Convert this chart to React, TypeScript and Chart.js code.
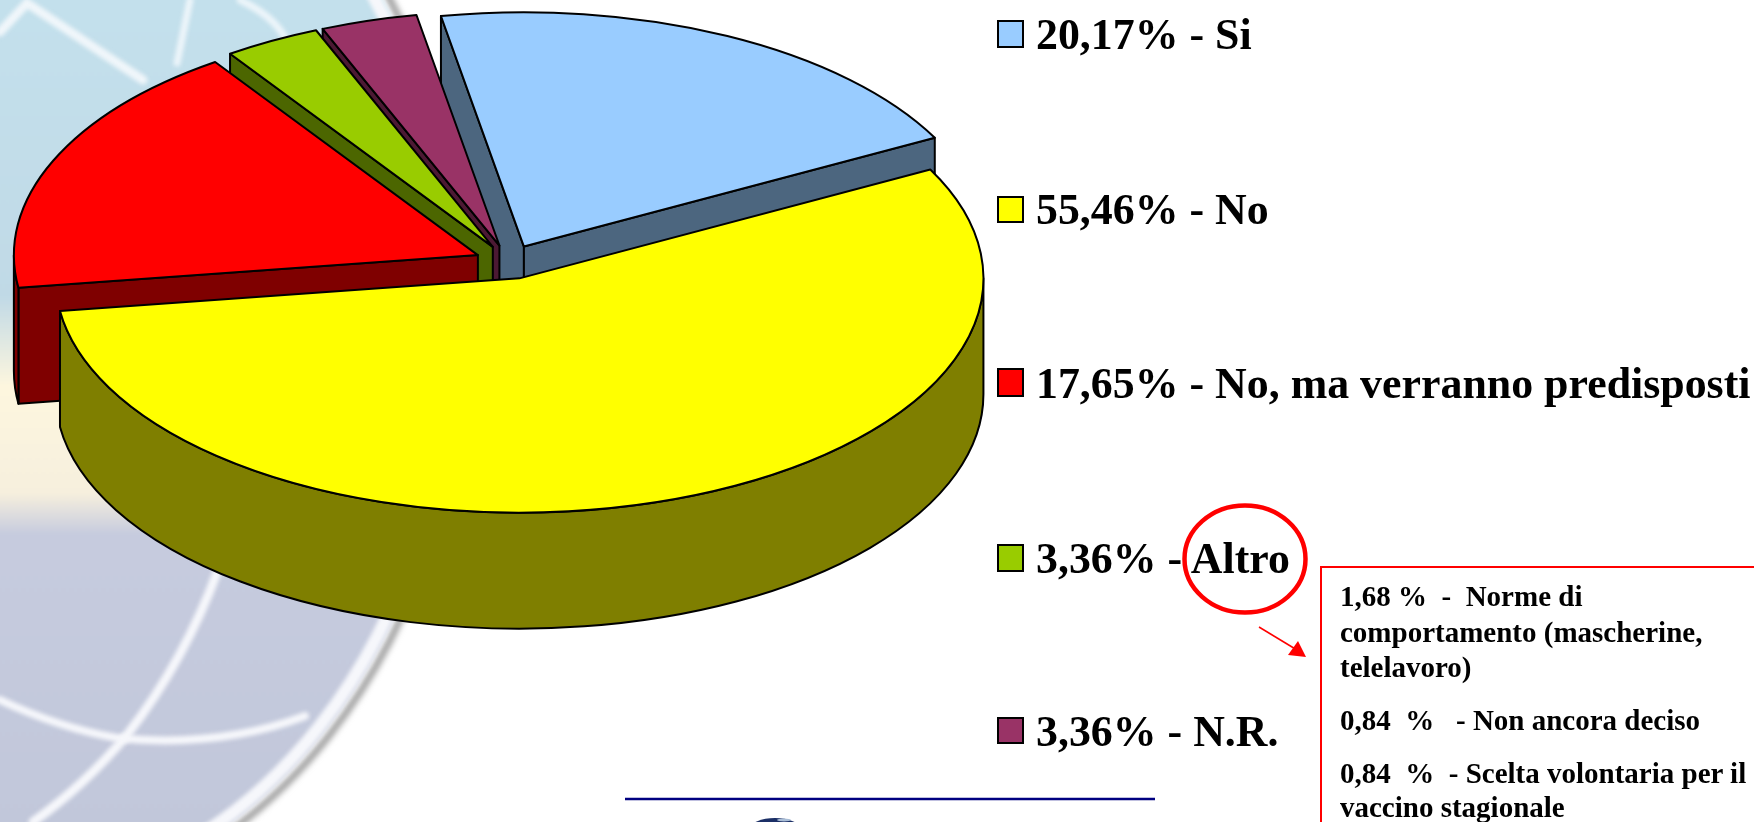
import React, { useEffect, useRef } from "react";
import { Chart, ArcElement, PieController } from "chart.js";

const categories = ["Si", "No", "No, ma verranno predisposti", "Altro", "N.R."];
const shares = [20.17, 55.46, 17.65, 3.36, 3.36];
const shareLabels = ["20,17%", "55,46%", "17,65%", "3,36%", "3,36%"];
const sliceColors = ["#99CCFF", "#FFFF00", "#FF0000", "#99CC00", "#993366"];
const altroLines = [
  "1,68 %  -  Norme di",
  "comportamento (mascherine,",
  "telelavoro)",
  "0,84  %   - Non ancora deciso",
  "0,84  %  - Scelta volontaria per il",
  "vaccino stagionale",
];

const TILT = 0.505;
const DEPTH = 116;

const halve = (hex: string) => {
  const n = parseInt(hex.slice(1), 16);
  return `rgb(${(n >> 16) >> 1},${((n >> 8) & 255) >> 1},${(n & 255) >> 1})`;
};

class Arc3D extends ArcElement {
  static id = "arc3d";
  draw(ctx: CanvasRenderingContext2D) {
    const { x, y, startAngle: s, endAngle: e, outerRadius: R, options } = this as any;
    const mid = (s + e) / 2;
    const d = options.offset;
    const ax = x + Math.cos(mid) * d;
    const ay = y + Math.sin(mid) * d * TILT;
    const ry = R * TILT;
    ctx.save();
    ctx.lineWidth = options.borderWidth;
    ctx.strokeStyle = options.borderColor;
    ctx.lineJoin = "round";
    ctx.fillStyle = halve(options.backgroundColor);
    const faces: number[] = [];
    if (Math.cos(s) < 0) faces.push(s);
    if (Math.cos(e) > 0) faces.push(e);
    for (const t of faces) {
      const px = ax + R * Math.cos(t);
      const py = ay + ry * Math.sin(t);
      ctx.beginPath();
      ctx.moveTo(ax, ay);
      ctx.lineTo(px, py);
      ctx.lineTo(px, py + DEPTH);
      ctx.lineTo(ax, ay + DEPTH);
      ctx.closePath();
      ctx.fill();
      ctx.stroke();
    }
    const a = Math.max(s, 0);
    const b = Math.min(e, Math.PI);
    if (b > a) {
      ctx.beginPath();
      ctx.ellipse(ax, ay, R, ry, 0, a, b);
      ctx.ellipse(ax, ay + DEPTH, R, ry, 0, b, a, true);
      ctx.closePath();
      ctx.fill();
      ctx.stroke();
    }
    ctx.fillStyle = options.backgroundColor;
    ctx.beginPath();
    ctx.moveTo(ax, ay);
    ctx.ellipse(ax, ay, R, ry, 0, s, e);
    ctx.closePath();
    ctx.fill();
    ctx.stroke();
    ctx.restore();
  }
}

class Pie3DController extends PieController {
  static id = "pie3d";
  static defaults = { dataElementType: "arc3d" };
  draw() {
    const { ctx } = this.chart;
    const arcs = (this as any)._cachedMeta.data;
    arcs[0].draw(ctx);
    for (let i = arcs.length - 1; i > 0; i--) arcs[i].draw(ctx);
  }
}

const stroke = (ctx: CanvasRenderingContext2D, pts: number[][], w: number, color: string) => {
  ctx.lineWidth = w;
  ctx.strokeStyle = color;
  ctx.beginPath();
  pts.forEach(([px, py], i) => (i ? ctx.lineTo(px, py) : ctx.moveTo(px, py)));
  ctx.stroke();
};

const backdrop = {
  id: "backdrop",
  beforeDraw(chart: Chart) {
    const ctx = chart.ctx;
    ctx.save();
    ctx.fillStyle = "#fff";
    ctx.fillRect(0, 0, 1754, 822);
    ctx.filter = "blur(3px)";
    ctx.beginPath();
    ctx.ellipse(0, 320, 465, 588, 0, 0, Math.PI * 2);
    ctx.lineWidth = 6;
    ctx.strokeStyle = "#8f8f8f";
    ctx.stroke();
    ctx.filter = "blur(1.5px)";
    const g = ctx.createLinearGradient(0, 0, 0, 822);
    g.addColorStop(0, "#c3e0ec");
    g.addColorStop(0.36, "#c0d9e6");
    g.addColorStop(0.47, "#fdf6de");
    g.addColorStop(0.6, "#f6efdd");
    g.addColorStop(0.65, "#c6cbde");
    g.addColorStop(1, "#c1c7da");
    ctx.save();
    ctx.beginPath();
    ctx.ellipse(0, 320, 459, 582, 0, 0, Math.PI * 2);
    ctx.fillStyle = g;
    ctx.fill();
    ctx.restore();
    ctx.filter = "blur(2px)";
    ctx.lineCap = "round";
    ctx.beginPath();
    ctx.ellipse(0, 320, 452, 575, 0, -Math.PI / 2, Math.PI / 2);
    ctx.lineWidth = 13;
    ctx.strokeStyle = "#f6f7fb";
    ctx.stroke();
    ctx.beginPath();
    ctx.moveTo(218, 570);
    ctx.quadraticCurveTo(185, 660, 127, 735);
    ctx.quadraticCurveTo(85, 785, 33, 822);
    ctx.lineWidth = 9;
    ctx.stroke();
    ctx.beginPath();
    ctx.moveTo(0, 700);
    ctx.quadraticCurveTo(60, 728, 117, 738);
    ctx.quadraticCurveTo(220, 748, 305, 716);
    ctx.lineWidth = 8;
    ctx.stroke();
    stroke(ctx, [[0, 32], [27, 3], [143, 80]], 9, "#f0f6fa");
    stroke(ctx, [[190, 0], [177, 63]], 7, "#edf5fa");
    ctx.beginPath();
    ctx.moveTo(240, 0);
    ctx.quadraticCurveTo(282, 20, 290, 50);
    ctx.lineWidth = 7;
    ctx.stroke();
    ctx.restore();
  },
};

const annotations = {
  id: "annotations",
  afterDraw(chart: Chart) {
    const ctx = chart.ctx;
    ctx.save();
    stroke(ctx, [[625, 799], [1155, 799]], 2.5, "#000080");
    ctx.filter = "blur(0.7px)";
    ctx.fillStyle = "#1b2f66";
    ctx.beginPath();
    ctx.ellipse(775, 829, 25, 11, 0, 0, Math.PI * 2);
    ctx.fill();
    ctx.fillStyle = "#a9bdd6";
    ctx.beginPath();
    ctx.ellipse(784, 820, 7, 1.5, 0, 0, Math.PI * 2);
    ctx.fill();
    ctx.filter = "none";
    stroke(ctx, [[1754, 567], [1321, 567], [1321, 822]], 2, "#FF0000");
    ctx.beginPath();
    ctx.ellipse(1245, 559, 60.5, 53.5, 0, 0, Math.PI * 2);
    ctx.lineWidth = 4.5;
    ctx.strokeStyle = "#FF0000";
    ctx.stroke();
    stroke(ctx, [[1259, 627], [1297, 650]], 1.5, "#FF0000");
    ctx.fillStyle = "#FF0000";
    ctx.beginPath();
    ctx.moveTo(1306, 657);
    ctx.lineTo(1288, 655);
    ctx.lineTo(1298, 641);
    ctx.closePath();
    ctx.fill();
    ctx.restore();
  },
};

Chart.register(ArcElement, Arc3D, Pie3DController);

const FONT = '"Liberation Serif", serif';
const LEGEND_BASE = [50, 225, 399, 574, 747];
const LEGEND_BOX = [[20, 47], [196, 222], [368, 396], [544, 571], [717, 743]];
const PANEL_BASE = [606, 642, 677, 730, 783, 817];

function Txt(p: { x: number; base: number; size: number; sx?: number; children: string }) {
  return (
    <span
      style={{
        position: "absolute",
        left: p.x,
        top: p.base - 0.3375 * p.size,
        lineHeight: 0,
        fontFamily: FONT,
        fontWeight: 700,
        fontSize: p.size,
        color: "#000",
        whiteSpace: "pre",
        transform: `scaleX(${p.sx ?? 1})`,
        transformOrigin: "0 0",
      }}
    >
      {p.children}
    </span>
  );
}

export default function App() {
  const ref = useRef<HTMLCanvasElement>(null);
  useEffect(() => {
    const chart = new Chart(ref.current!, {
      type: "pie3d" as any,
      data: {
        labels: categories,
        datasets: [
          {
            data: shares,
            backgroundColor: sliceColors,
            borderColor: "#000",
            borderWidth: 2,
            offset: 34,
            clip: false,
          } as any,
        ],
      },
      options: {
        animation: false,
        responsive: false,
        events: [],
        rotation: -10.3,
        radius: 464,
        layout: { padding: { right: 736, bottom: 298 } },
        plugins: { legend: { display: false }, tooltip: { enabled: false } },
      } as any,
      plugins: [backdrop, annotations],
    });
    return () => chart.destroy();
  }, []);
  return (
    <div style={{ position: "absolute", left: 0, top: 0, width: 1754, height: 822, overflow: "hidden", background: "#fff" }}>
      <canvas ref={ref} width={1754} height={822} style={{ display: "block" }} />
      {categories.map((c, i) => (
        <React.Fragment key={c}>
          <div
            style={{
              position: "absolute",
              left: 997,
              top: LEGEND_BOX[i][0],
              width: 23,
              height: LEGEND_BOX[i][1] - LEGEND_BOX[i][0] - 3,
              background: sliceColors[i],
              border: "2px solid #000",
            }}
          />
          <Txt x={1036} base={LEGEND_BASE[i]} size={44} sx={0.997}>{`${shareLabels[i]} - ${c}`}</Txt>
        </React.Fragment>
      ))}
      {altroLines.map((l, i) => (
        <Txt key={i} x={1340} base={PANEL_BASE[i]} size={29}>{l}</Txt>
      ))}
    </div>
  );
}
